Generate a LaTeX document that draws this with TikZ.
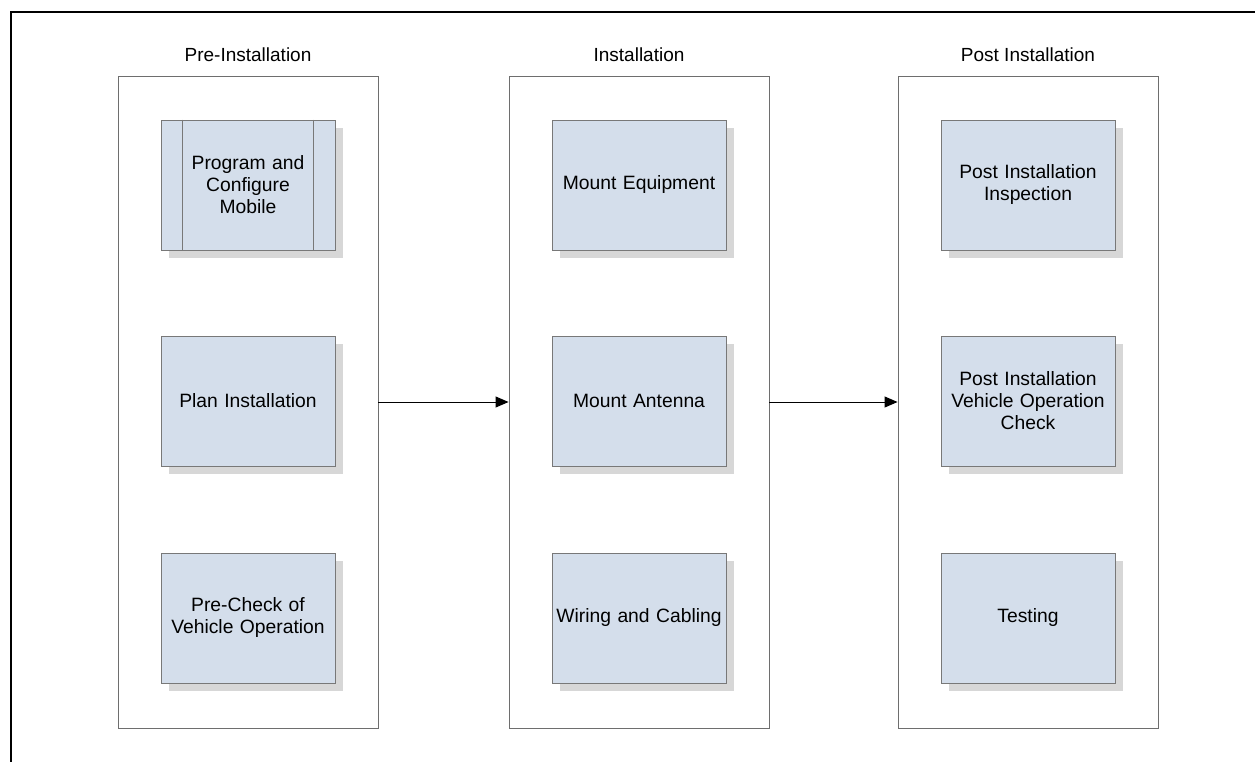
\documentclass[tikz,border=0pt]{standalone}
\usepackage{fontspec}
\setmainfont{Liberation Sans}
\usetikzlibrary{positioning,shadows,arrows.meta}
\definecolor{boxfill}{RGB}{212,222,235}
\definecolor{boxline}{RGB}{120,120,120}
\definecolor{laneline}{RGB}{110,110,110}
\definecolor{shade}{RGB}{215,215,215}
\begin{document}
\begin{tikzpicture}[x=1pt,y=-1pt]
  \tikzset{ lane/.style={draw=laneline,line width=0.9pt,fill=white,minimum width=260pt,minimum height=652pt,inner sep=0pt},
    title/.style={font=\fontsize{19}{22}\selectfont,anchor=base},
    task/.style={draw=boxline,line width=0.9pt,fill=boxfill,minimum width=174pt,minimum height=130pt,
      align=center,text width=168pt,inner sep=0pt,font=\fontsize{19.3}{22}\selectfont,
      drop shadow={shadow xshift=8pt,shadow yshift=-8pt,fill=shade,opacity=1}},
  }
  \useasboundingbox (0,0) rectangle (1255,762);
  \draw[line width=2.5pt] (11,762) -- (11,12) -- (1255,12);

  \node[lane] (pre) at (248, 402) {};
  \node[lane] (inst) at (639, 402) {};
  \node[lane] (post) at (1028, 402) {};

  \node[title] (tpre) at ([yshift=14pt]pre.north) {Pre-Installation};
  \node[title] (tinst) at ([yshift=14pt]inst.north) {Installation};
  \node[title] (tpost) at ([yshift=14pt]post.north) {Post Installation};

  \node[task] (prog) at (248, 185) {Program and\\Configure\\Mobile};
  \node[task] (plan) at (248, 401) {Plan Installation};
  \node[task] (check) at (248, 618) {Pre-Check of\\Vehicle Operation};
  \draw[boxline,line width=0.9pt] ([xshift=22pt]prog.north west) -- ([xshift=22pt]prog.south west);
  \draw[boxline,line width=0.9pt] ([xshift=-22pt]prog.north east) -- ([xshift=-22pt]prog.south east);

  \node[task] (equip) at (639, 185) {Mount Equipment};
  \node[task] (ant) at (639, 401) {Mount Antenna};
  \node[task] (wire) at (639, 618) {Wiring and Cabling};

  \node[task] (insp) at (1028, 185) {Post Installation\\Inspection};
  \node[task] (opck) at (1028, 401) {Post Installation\\Vehicle Operation\\Check};
  \node[task] (test) at (1028, 618) {Testing};

  \draw[-{Triangle[length=13pt,width=11pt]},line width=1pt] (pre) -- (inst);
  \draw[-{Triangle[length=13pt,width=11pt]},line width=1pt] (inst) -- (post);
\end{tikzpicture}
\end{document}
